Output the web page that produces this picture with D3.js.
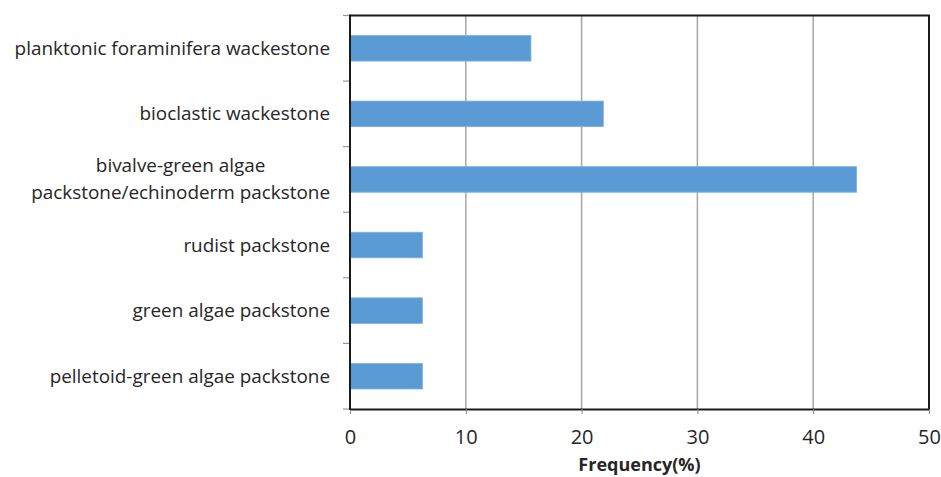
<!DOCTYPE html>
<html>
<head>
<meta charset="utf-8">
<script src="https://cdn.jsdelivr.net/npm/d3@7"></script>
<style>
  html, body { margin: 0; padding: 0; background: #fff; }
  svg { display: block; }
  text { font-family: "Open Sans", "Noto Sans", sans-serif; fill: #262626; }
</style>
</head>
<body>
<svg id="chart" width="941" height="477"></svg>
<script>
// Microfacies types, listed top to bottom
const facies = [
  ["planktonic foraminifera wackestone"],
  ["bioclastic wackestone"],
  ["bivalve-green algae", "packstone/echinoderm packstone"],
  ["rudist packstone"],
  ["green algae packstone"],
  ["pelletoid-green algae packstone"]
];
// Frequency of each type (%)
const frequency = [15.625, 21.875, 43.75, 6.25, 6.25, 6.25];
const xTicks = [0, 10, 20, 30, 40, 50];
const xTitle = "Frequency(%)";

const svg = d3.select("#chart");
const plotL = 350, plotR = 929, plotT = 15.5, plotB = 409;

const x = d3.scaleLinear().domain([0, 50]).range([plotL, plotR]);
const y = d3.scaleBand().domain(d3.range(facies.length)).range([plotT, plotB]).paddingInner(0.61).paddingOuter(0.305);

// vertical gridlines
svg.append("g").selectAll("line").data(xTicks.slice(1)).join("line")
  .attr("x1", d => x(d)).attr("x2", d => x(d))
  .attr("y1", plotT).attr("y2", plotB)
  .attr("stroke", "#a6a6a6").attr("stroke-width", 1.5);

// bars
svg.append("g").selectAll("rect").data(frequency).join("rect")
  .attr("x", x(0))
  .attr("y", (d, i) => y(i))
  .attr("width", d => x(d) - x(0))
  .attr("height", y.bandwidth())
  .attr("fill", "#5b9bd5")
  .attr("stroke", "#7fb2e0").attr("stroke-width", 0.8);

// frame: top and right edges
svg.append("path")
  .attr("d", `M${plotL},${plotT}H${plotR}V${plotB}`)
  .attr("fill", "none").attr("stroke", "#1a1a1a").attr("stroke-width", 2);

// x axis
const xAxis = svg.append("g").attr("transform", `translate(0,${plotB})`)
  .call(d3.axisBottom(x).tickValues(xTicks).tickSize(5).tickPadding(16).tickSizeOuter(0));
xAxis.select(".domain").attr("stroke", "#1a1a1a").attr("stroke-width", 2);
xAxis.selectAll(".tick line").attr("stroke", "#888");
xAxis.selectAll(".tick text").attr("font-size", 20).attr("fill", "#262626")
  .style("font-family", "'Open Sans', sans-serif");

// y axis with ticks on category boundaries
const step = (plotB - plotT) / facies.length;
const bounds = d3.range(facies.length + 1).map(i => plotT + i * step);
svg.append("g").selectAll("line").data(bounds).join("line")
  .attr("x1", plotL - 7).attr("x2", plotL)
  .attr("y1", d => d).attr("y2", d => d)
  .attr("stroke", "#999").attr("stroke-width", 1.2);
svg.append("line")
  .attr("x1", plotL).attr("x2", plotL).attr("y1", plotT - 1).attr("y2", plotB + 1)
  .attr("stroke", "#1a1a1a").attr("stroke-width", 2);

// category labels
const labelX = 330;
const lbl = svg.append("g").selectAll("text").data(facies).join("text")
  .attr("text-anchor", "end")
  .attr("font-size", 18.9)
  .attr("x", labelX)
  .attr("y", (d, i) => y(i) + y.bandwidth() / 2);
lbl.each(function(lines) {
  const t = d3.select(this);
  const lh = 27;
  lines.forEach((s, k) => {
    t.append("tspan")
      .attr("x", labelX)
      .attr("dy", k === 0 ? (-(lines.length - 1) * lh / 2 + 6.5) : lh)
      .attr("text-anchor", lines.length > 1 && k === 0 ? "middle" : "end")
      .text(s);
  });
});
// centre the first line of the two-line label over the second
lbl.filter(d => d.length > 1).each(function() {
  const spans = d3.select(this).selectAll("tspan").nodes();
  const w = spans[1].getComputedTextLength();
  d3.select(spans[0]).attr("x", labelX - w / 2);
});

// x axis title
svg.append("text")
  .attr("x", (plotL + plotR) / 2).attr("y", 471)
  .attr("text-anchor", "middle")
  .attr("font-size", 18).attr("font-weight", "bold")
  .text(xTitle);
</script>
</body>
</html>
